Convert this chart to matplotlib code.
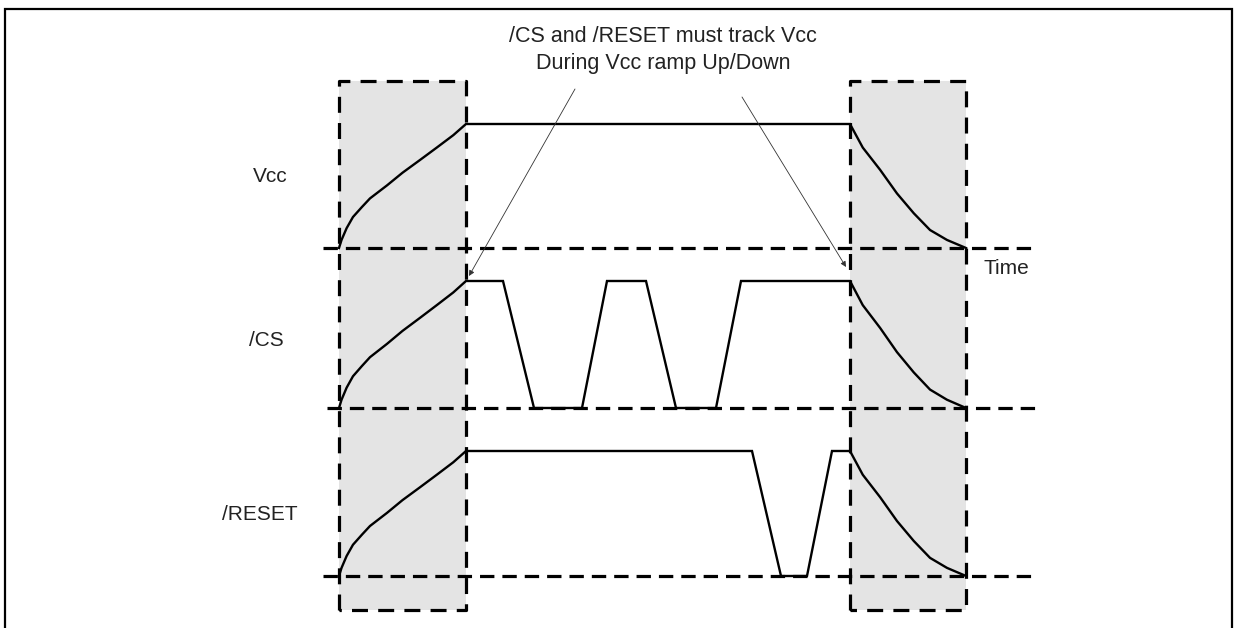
import matplotlib
matplotlib.use("Agg")
import matplotlib.pyplot as plt
import numpy as np

plt.rcParams['font.family'] = ['Liberation Sans', 'DejaVu Sans']

# ---- data (time axis in arbitrary units, signal levels 0..1) ----
signal_names = ["Vcc", "/CS", "/RESET"]
signal_base = [248, 408, 576]      # vertical position of each row's low level
signal_high = [124, 281, 451]      # vertical position of each row's high level

ramp_up_window = (339, 466)
ramp_down_window = (850, 966)

# normalised power-ramp shapes
ramp_up_t = [0, 0.02, 0.06, 0.11, 0.18, 0.244, 0.378, 0.50, 0.638, 0.77, 0.90, 1.0]
ramp_up_v = [0, 0.065, 0.16, 0.25, 0.33, 0.40, 0.505, 0.607, 0.71, 0.81, 0.91, 1.0]
ramp_dn_t = [0, 0.11, 0.26, 0.405, 0.55, 0.69, 0.836, 1.0]
ramp_dn_v = [1, 0.81, 0.63, 0.44, 0.28, 0.145, 0.065, 0.0]

# digital segments between the ramps (time, level)
vcc_mid_t = [466, 850]
vcc_mid_v = [1, 1]
cs_mid_t = [466, 503, 534, 582, 607, 646, 676, 716, 741, 850]
cs_mid_v = [1, 1, 0, 0, 1, 1, 0, 0, 1, 1]
reset_mid_t = [466, 752, 781, 807, 832, 848, 850]
reset_mid_v = [1, 1, 0, 0, 1, 1, 1]
mid_t = [vcc_mid_t, cs_mid_t, reset_mid_t]
mid_v = [vcc_mid_v, cs_mid_v, reset_mid_v]

baseline_span = [(323, 1031), (327, 1036), (323, 1033)]

title_lines = ["/CS and /RESET must track Vcc", "During Vcc ramp Up/Down"]
time_label = "Time"

# ---- figure ----
W, H = 1234, 628
fig = plt.figure(figsize=(W / 100, H / 100), dpi=100)
ax = fig.add_axes([0, 0, 1, 1])
ax.set_xlim(0, W)
ax.set_ylim(H, 0)
ax.axis("off")

# outer frame (open at the bottom)
ax.plot([5, 5, 1232, 1232], [H + 5, 9, 9, H + 5], color="black", lw=1.6,
        solid_joinstyle="miter", clip_on=False)

# shaded ramp windows
box_top, box_bot = 81, 610
for (x0, x1) in (ramp_up_window, ramp_down_window):
    ax.fill_between([x0, x1], box_top, box_bot, color="#e4e4e4", lw=0, zorder=1)
    ax.plot([x0, x0, x1, x1, x0], [box_bot, box_top, box_top, box_bot, box_bot],
            color="black", lw=2.3, dashes=(5, 3.2), zorder=3)

# baselines
for (b, (xa, xb)) in zip(signal_base, baseline_span):
    ax.plot([xa, xb], [b, b], color="black", lw=2.3, dashes=(4.5, 2.5), zorder=3)

# signals
def level_to_y(v, i):
    v = np.asarray(v, dtype=float)
    return signal_base[i] + v * (signal_high[i] - signal_base[i])

for i in range(3):
    x0, x1 = ramp_up_window
    tu = x0 + np.asarray(ramp_up_t) * (x1 - x0)
    d0, d1 = ramp_down_window
    td = d0 + np.asarray(ramp_dn_t) * (d1 - d0)
    xs = np.concatenate([tu, mid_t[i][1:], td[1:]])
    vs = np.concatenate([ramp_up_v, mid_v[i][1:], ramp_dn_v[1:]])
    ax.plot(xs, level_to_y(vs, i), color="black", lw=1.7, zorder=4,
            solid_joinstyle="miter")

# labels
label_pos = [(270, 177), (266, 341), (260, 514)]
for name, (lx, ly) in zip(signal_names, label_pos):
    ax.text(lx, ly, name, fontsize=15, ha="center", va="center", color="#222222")
ax.text(1006, 268, time_label, fontsize=15, ha="center", va="center", color="#222222")

ax.text(663, 37, title_lines[0], fontsize=15.5, ha="center", va="center", color="#222222")
ax.text(663, 63, title_lines[1], fontsize=15.5, ha="center", va="center", color="#222222")

# pointer arrows
for (sx, sy), (ex, ey) in [((575, 89), (469, 276)), ((742, 97), (846, 267))]:
    ax.annotate("", xy=(ex, ey), xytext=(sx, sy),
                arrowprops=dict(arrowstyle="-|>", color="#333333", lw=0.6,
                                mutation_scale=8, shrinkA=0, shrinkB=0), zorder=5)

fig.savefig("out.png", dpi=100)
